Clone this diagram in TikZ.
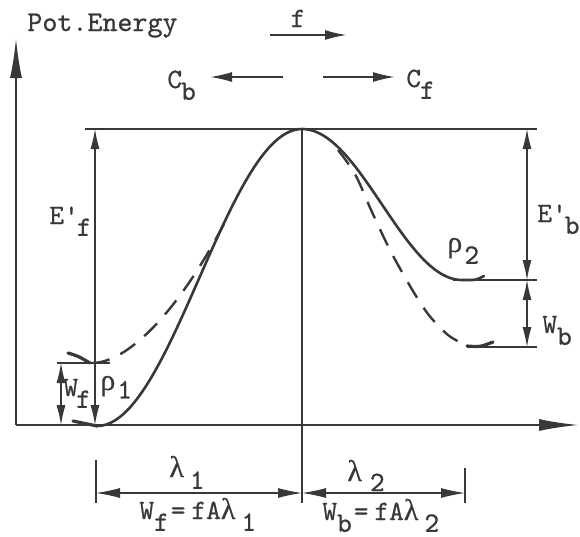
\documentclass[tikz,border=0pt]{standalone}
\usepackage{fontspec}
\newfontfamily\gk[FakeBold=0.5]{Liberation Serif}
\newfontfamily\tw[FakeBold=0.7]{lmmono10-regular.otf}
\usetikzlibrary{arrows.meta}
\definecolor{ink}{gray}{0.22}
\newcommand{\lo}[2][0.42em]{\raisebox{-#1}{#2}}
\newcommand{\gr}[1]{{\gk\fontsize{15}{15}\selectfont #1}}
\tikzset{
  thin line/.style={draw=ink, line width=0.55pt},
  axis line/.style={draw=ink, line width=1.1pt},
  curve line/.style={draw=ink, line width=1.3pt, line cap=round},
  dash line/.style={draw=ink, line width=1.2pt, dash pattern=on 9pt off 6pt},
  hook line/.style={draw=ink, line width=1.6pt, line cap=round},
  axis arrow/.style={-{Latex[length=20pt,width=6pt]}},
  top arrow/.style={-{Latex[length=11pt,width=5pt]}},
  v arrow/.style={-{Latex[length=10pt,width=4.5pt]}},
  vv arrow/.style={{Latex[length=10pt,width=4.5pt]}-{Latex[length=10pt,width=4.5pt]}},
  dim arrow/.style={{Latex[length=12pt,width=5pt]}-{Latex[length=12pt,width=5pt]}},
  lab/.style={font=\tw\fontsize{14}{16}\selectfont, inner sep=0pt, text=ink},
  potlab/.style={font=\tw\fontsize{14.3}{16}\selectfont, inner sep=0pt, text=ink}
}
\begin{document}
\begin{tikzpicture}[x=0.5pt,y=-0.5pt]
\useasboundingbox (0,0) rectangle (580,537);
% coordinates
\coordinate (O) at (16,425);
\coordinate (Ytip) at (16,38);
\coordinate (Xtip) at (579,425);
\coordinate (TL) at (85,129);
\coordinate (TR) at (537,129);
\coordinate (peak) at (302,129);
\coordinate (cbot) at (302,503);
\coordinate (Lt) at (95,129);
\coordinate (Lm) at (95,363);
\coordinate (Lb) at (95,425);
\coordinate (WfL) at (57,363);
\coordinate (WfR) at (110,363);
\coordinate (Wft) at (61,363);
\coordinate (Wfb) at (61,425);
\coordinate (Rt) at (527,129);
\coordinate (Rm) at (527,280);
\coordinate (Rb) at (527,347);
\coordinate (R2L) at (453,280);
\coordinate (R2R) at (537,280);
\coordinate (R3L) at (467,347);
\coordinate (R3R) at (537,347);
\coordinate (T1a) at (96,460);
\coordinate (T1b) at (96,503);
\coordinate (T2a) at (465,468);
\coordinate (T2b) at (465,503);
\coordinate (D1) at (96,493);
\coordinate (Dc) at (302,493);
\coordinate (D2) at (465,493);
\coordinate (fa) at (270,35);
\coordinate (fb) at (347,35);
\coordinate (cba) at (283,77);
\coordinate (cbb) at (210,77);
\coordinate (cfa) at (323,77);
\coordinate (cfb) at (395,77);
% axes
\draw[axis line, axis arrow] (O) -- (Ytip);
\draw[axis line, axis arrow] (O) -- (Xtip);
% reference lines
\draw[thin line] (TL) -- (TR);
\draw[thin line] (peak) -- (cbot);
\draw[thin line, v arrow] (Lm) -- (Lt);
\draw[thin line, v arrow] (Lm) -- (Lb);
\draw[thin line] (WfL) -- (WfR);
\draw[thin line, vv arrow] (Wft) -- (Wfb);
\draw[thin line, vv arrow] (Rt) -- (Rm);
\draw[thin line, vv arrow] (Rm) -- (Rb);
\draw[thin line] (R2L) -- (R2R);
\draw[thin line] (R3L) -- (R3R);
% bottom dimensions
\draw[thin line] (T1a) -- (T1b);
\draw[thin line] (T2a) -- (T2b);
\draw[thin line, dim arrow] (D1) -- (Dc);
\draw[thin line, dim arrow] (Dc) -- (D2);
% top arrows
\draw[thin line, line width=1pt, top arrow] (fa) -- (fb);
\draw[thin line, line width=0.9pt, top arrow] (cba) -- (cbb);
\draw[thin line, line width=0.9pt, top arrow] (cfa) -- (cfb);
% solid curve
\draw[curve line] plot[domain=97:302, samples=70] (\x,{129+148.5*(1-cos((302-\x)/205*180))})
  -- plot[domain=302:462, samples=60] (\x,{129+75.5*(1-cos((\x-302)/160*180))})
  -- (468,280) .. controls (476,280) .. (484,276);
\draw[hook line] (73,421) .. controls (85,424) .. (97,426);
% dashed curves
\draw[dash line] (92,363) .. controls (125,363) and (175,318) .. (225,222);
\draw[hook line] (68,353) .. controls (78,356) .. (90,363);
\draw[dash line] plot[smooth] coordinates {(338,150) (355,174) (372,212) (390,250) (410,286) (428,314) (448,335) (467,346)};
\draw[hook line] (467,346) .. controls (480,347) .. (493,342);
% labels
\node[potlab, anchor=base west] (pot) at (27,31) {Pot.Energy};
\node[lab, anchor=base] (flab) at (298,27) {f};
\node[lab, anchor=base west] (cb) at (167,88) {C\kern-0.5pt\lo{b}};
\node[lab, anchor=base west] (cf) at (406,87) {C\kern-0.5pt\lo{f}};
\node[lab, anchor=base west] (efl) at (49,224) {E'\kern-1pt\lo{f}};
\node[lab, anchor=base west] (ebl) at (537,222) {E'\kern-1pt\lo{b}};
\node[lab, anchor=base west] (rho2) at (447,252) {\gr{ρ}\kern1pt\lo{2}};
\node[lab, anchor=base west] (wb) at (542,333) {W\lo{b}};
\node[lab, anchor=base west] (wf) at (63,396) {W\kern-1pt\lo{f}};
\node[lab, anchor=base west] (rho1) at (100,390) {\gr{ρ}\kern1pt\lo[0.3em]{1}};
\node[lab, anchor=base west] (lam1) at (169,477) {\gr{λ}\kern3pt\lo{1}};
\node[lab, anchor=base west] (lam2) at (347,481) {\gr{λ}\kern4pt\lo[0.36em]{2}};
\node[lab, anchor=base west] (wfeq) at (139,519) {W\lo{f}\kern1pt=\kern3pt fA\gr{λ}\kern3pt\lo{1}};
\node[lab, anchor=base west] (wbeq) at (322,520) {W\lo{b}\kern1pt=\kern3pt fA\gr{λ}\kern3pt\lo{2}};
\end{tikzpicture}
\end{document}
